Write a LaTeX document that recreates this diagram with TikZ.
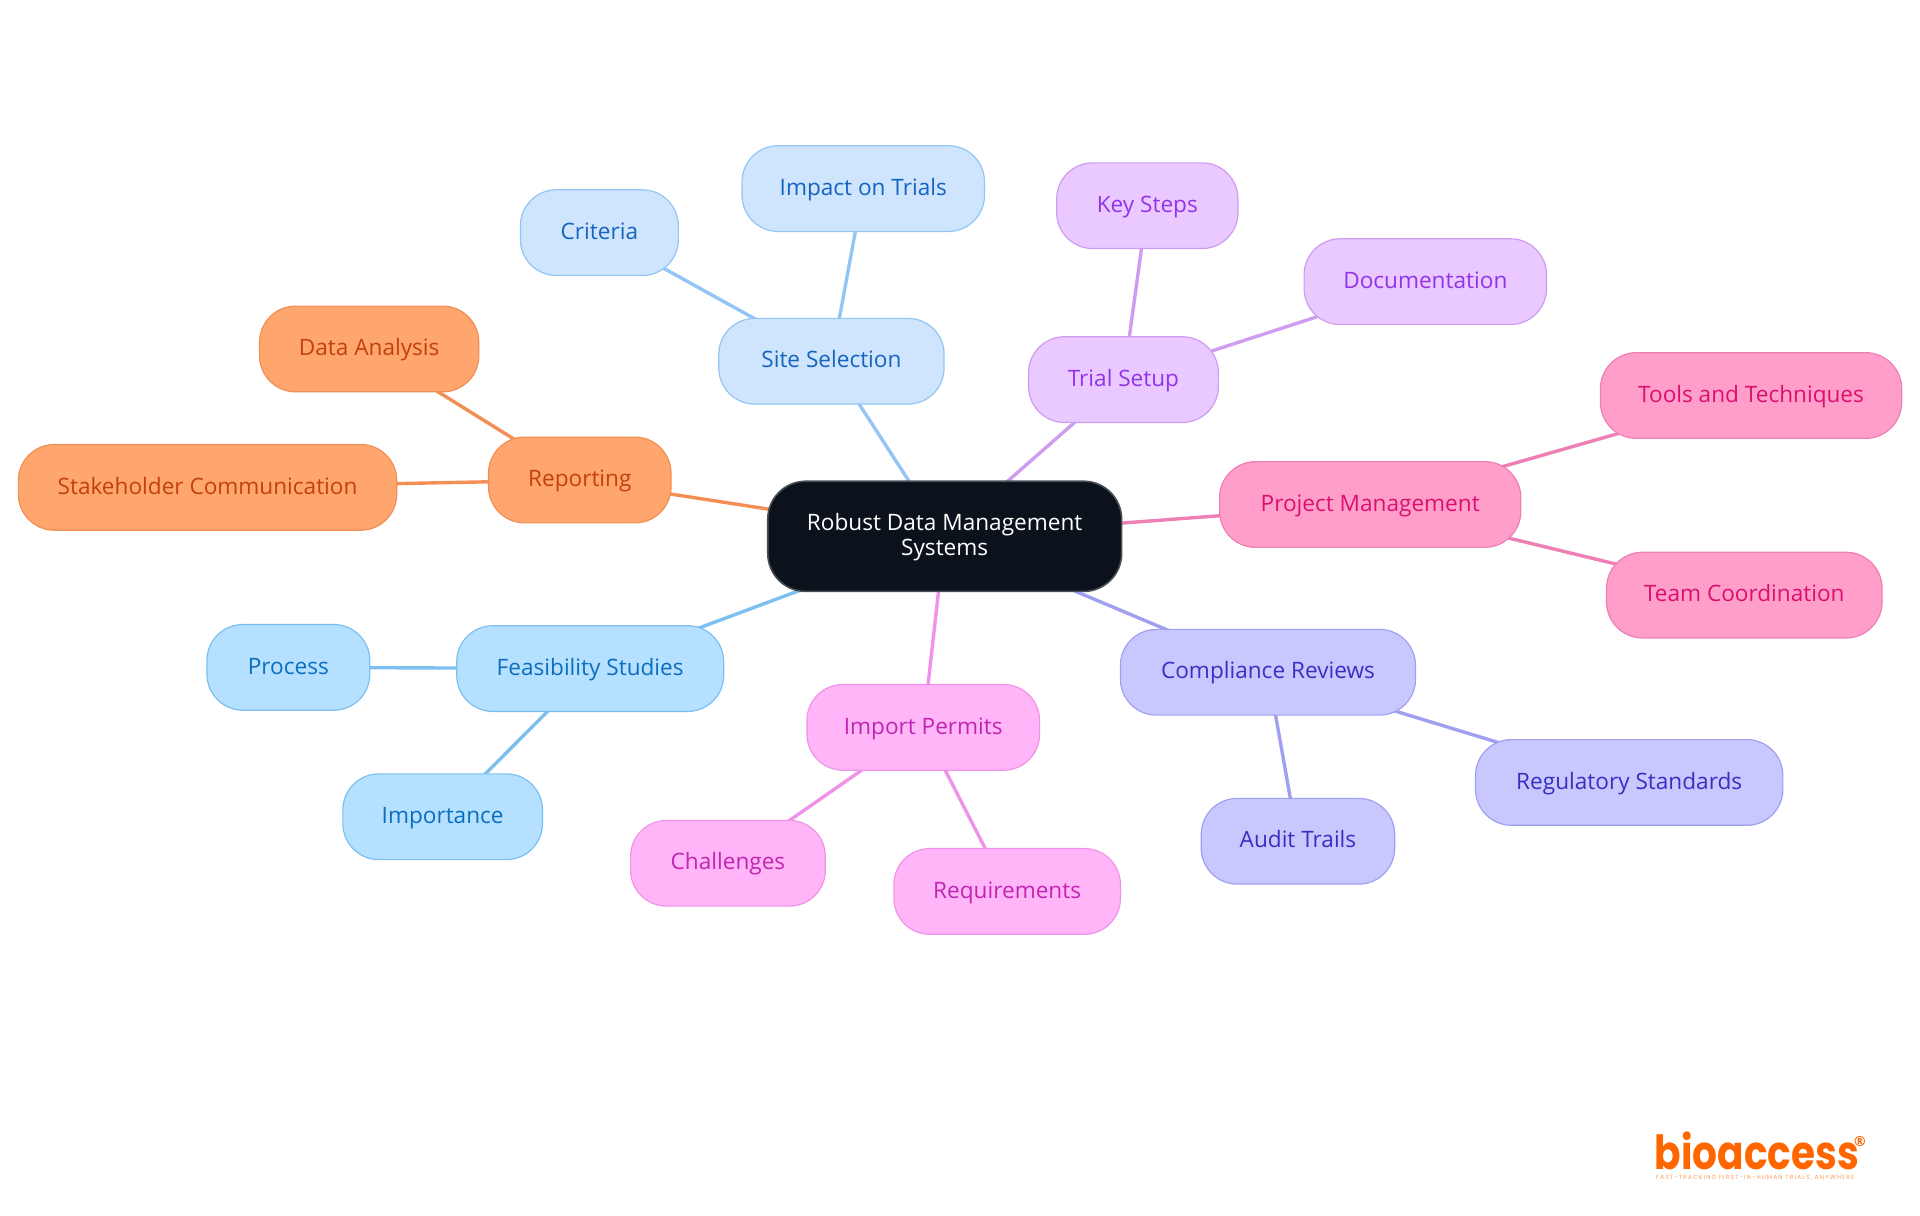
\documentclass[tikz,border=0pt]{standalone}
\usepackage{fontspec}
\setmainfont{Open Sans}
\newfontfamily\logofont[FakeStretch=0.83]{Poppins}
\newfontfamily\regfont{Open Sans}
\newfontfamily\tagfont[LetterSpace=19]{Poppins}
\usetikzlibrary{backgrounds}
\definecolor{rootfill}{HTML}{0B121B}\definecolor{rootline}{HTML}{4A4F55}
\definecolor{sitefill}{HTML}{CFE4FD}\definecolor{siteline}{HTML}{93C5F5}\definecolor{sitetext}{HTML}{1565C0}
\definecolor{repfill}{HTML}{FFA56E}\definecolor{repline}{HTML}{F28F55}\definecolor{reptext}{HTML}{C2410C}
\definecolor{feafill}{HTML}{B6E0FF}\definecolor{fealine}{HTML}{7CC0F0}\definecolor{featext}{HTML}{0B6EBF}
\definecolor{impfill}{HTML}{FFB5F7}\definecolor{impline}{HTML}{F093E8}\definecolor{imptext}{HTML}{C026B3}
\definecolor{comfill}{HTML}{C8C8FF}\definecolor{comline}{HTML}{A0A0F0}\definecolor{comtext}{HTML}{3730C0}
\definecolor{prjfill}{HTML}{FF9FC9}\definecolor{prjline}{HTML}{EE7FB5}\definecolor{prjtext}{HTML}{DB0F70}
\definecolor{trifill}{HTML}{E9C9FF}\definecolor{triline}{HTML}{CE9CF0}\definecolor{tritext}{HTML}{9333EA}
\definecolor{logoorange}{HTML}{FF6600}
\tikzset{
  mm/.style={rounded corners=18pt,line width=0.6pt,inner sep=0pt,outer sep=0pt,align=center,
    font=\fontsize{11.3pt}{12.8pt}\selectfont,text height=9pt,text depth=2.3pt},
  rootbox/.style={mm,fill=rootfill,draw=rootline,text=white,rounded corners=19pt,line width=0.8pt,text height=22pt,text depth=2.6pt},
  site/.style={mm,fill=sitefill,draw=siteline,text=sitetext},
  rep/.style={mm,fill=repfill,draw=repline,text=reptext},
  fea/.style={mm,fill=feafill,draw=fealine,text=featext},
  imp/.style={mm,fill=impfill,draw=impline,text=imptext},
  com/.style={mm,fill=comfill,draw=comline,text=comtext},
  prj/.style={mm,fill=prjfill,draw=prjline,text=prjtext},
  tri/.style={mm,fill=trifill,draw=triline,text=tritext},
  link/.style={line width=1.7pt},
}
% name, x0, x1, y0, y1, style, text  (coordinates in 1568-wide units)
\newcommand{\mmnode}[7]{%
  \pgfmathsetmacro{\mmcx}{(#2+#3)/2}\pgfmathsetmacro{\mmcy}{(#4+#5)/2}%
  \pgfmathsetmacro{\mmw}{(#3-#2)*0.61224}\pgfmathsetmacro{\mmh}{(#5-#4)*0.61224}%
  \node[#6,minimum width=\mmw pt,minimum height=\mmh pt] (#1) at (\mmcx,\mmcy) {#7};}
\begin{document}
\begin{tikzpicture}[x=0.61224pt,y=-0.61224pt]
\useasboundingbox (0,0) rectangle (1568,992.25);
\mmnode{root}{627}{916}{393}{483}{rootbox}{Robust Data Management\\Systems}
\mmnode{sitesel}{587}{771}{260}{330}{site}{Site Selection}
\mmnode{impact}{606}{804}{119}{189}{site}{Impact on Trials}
\mmnode{criteria}{425}{554}{155}{225}{site}{Criteria}
\mmnode{reporting}{399}{548}{357}{427}{rep}{Reporting}
\mmnode{dataan}{212}{391}{250}{320}{rep}{Data Analysis}
\mmnode{stake}{15}{324}{363}{433}{rep}{Stakeholder Communication}
\mmnode{feas}{373}{591}{511}{581}{fea}{Feasibility Studies}
\mmnode{process}{169}{302}{510}{580}{fea}{Process}
\mmnode{importance}{280}{443}{632}{702}{fea}{Importance}
\mmnode{permits}{659}{849}{559}{629}{imp}{Import Permits}
\mmnode{challenges}{515}{674}{670}{740}{imp}{Challenges}
\mmnode{requirements}{730}{915}{693}{763}{imp}{Requirements}
\mmnode{compliance}{915}{1156}{514}{584}{com}{Compliance Reviews}
\mmnode{audit}{981}{1139}{652}{722}{com}{Audit Trails}
\mmnode{regulatory}{1205}{1456}{604}{674}{com}{Regulatory Standards}
\mmnode{project}{996}{1242}{377}{447}{prj}{Project Management}
\mmnode{tools}{1307}{1553}{288}{358}{prj}{Tools and Techniques}
\mmnode{team}{1312}{1537}{451}{521}{prj}{Team Coordination}
\mmnode{trial}{840}{995}{275}{345}{tri}{Trial Setup}
\mmnode{keysteps}{863}{1011}{133}{203}{tri}{Key Steps}
\mmnode{documentation}{1065}{1263}{195}{265}{tri}{Documentation}
\node[anchor=base west,inner sep=0pt,text=logoorange,font=\logofont\bfseries\fontsize{23.5pt}{24pt}\selectfont] (logo) at (1351,955) {bioaccess};
\node[anchor=center,inner sep=0pt,text=logoorange,font=\regfont\bfseries\fontsize{7pt}{7pt}\selectfont] (reg) at (1519,932) {®};
\node[anchor=base west,inner sep=0pt,text=logoorange!65,font=\tagfont\fontsize{3pt}{3.2pt}\selectfont] (tagline) at (1352,963.5) {FAST-TRACKING FIRST-IN-HUMAN TRIALS, ANYWHERE};
\begin{scope}[on background layer]
\foreach \a/\b in {root/sitesel,sitesel/impact,sitesel/criteria}{\draw[link,siteline] (\a.center) -- (\b.center);}
\foreach \a/\b in {root/reporting,reporting/dataan,reporting/stake}{\draw[link,repline] (\a.center) -- (\b.center);}
\foreach \a/\b in {root/feas,feas/process,feas/importance}{\draw[link,fealine] (\a.center) -- (\b.center);}
\foreach \a/\b in {root/permits,permits/challenges,permits/requirements}{\draw[link,impline] (\a.center) -- (\b.center);}
\foreach \a/\b in {root/compliance,compliance/audit,compliance/regulatory}{\draw[link,comline] (\a.center) -- (\b.center);}
\foreach \a/\b in {root/project,project/tools,project/team}{\draw[link,prjline] (\a.center) -- (\b.center);}
\foreach \a/\b in {root/trial,trial/keysteps,trial/documentation}{\draw[link,triline] (\a.center) -- (\b.center);}
\end{scope}
\end{tikzpicture}
\end{document}
